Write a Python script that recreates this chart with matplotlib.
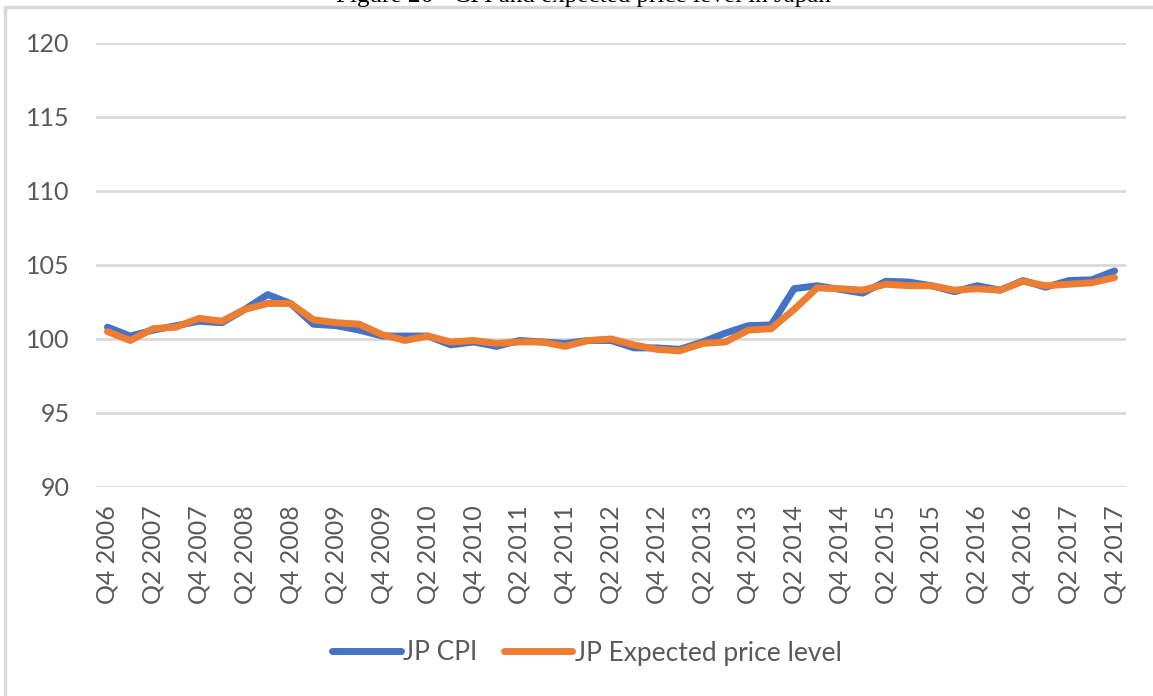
import matplotlib
matplotlib.use("Agg")
import matplotlib.pyplot as plt
from matplotlib.patches import Rectangle

quarters = []
for y in range(2006, 2018):
    for q in range(1, 5):
        if (y == 2006 and q < 4):
            continue
        quarters.append(f"Q{q} {y}")

jp_cpi = [100.8, 100.2, 100.6, 100.9, 101.2, 101.1, 102.0, 103.0, 102.4,
          101.0, 100.9, 100.6, 100.2, 100.2, 100.2, 99.6, 99.8, 99.5,
          99.9, 99.8, 99.7, 99.9, 99.9, 99.4, 99.4, 99.3, 99.8, 100.4,
          100.9, 100.95, 103.4, 103.6, 103.35, 103.1, 103.9, 103.85, 103.6,
          103.2, 103.6, 103.3, 103.95, 103.5, 103.95, 104.0, 104.6]
jp_expected = [100.5, 99.9, 100.7, 100.8, 101.4, 101.2, 102.0, 102.4, 102.4,
               101.3, 101.1, 101.0, 100.3, 99.9, 100.2, 99.8, 99.9, 99.7,
               99.8, 99.8, 99.5, 99.9, 100.0, 99.6, 99.3, 99.2, 99.7, 99.8,
               100.6, 100.7, 102.0, 103.45, 103.4, 103.3, 103.7, 103.6, 103.6,
               103.3, 103.4, 103.3, 103.9, 103.6, 103.7, 103.8, 104.15]
y_ticks = [90, 95, 100, 105, 110, 115, 120]
title = "Figure 26 - CPI and expected price level in Japan"

W, H = 1153, 696
fig = plt.figure(figsize=(W / 100, H / 100), dpi=100)
fig.patch.set_facecolor("white")

# chart frame
fig.patches.append(Rectangle((5 / W, -0.1), 1.2, 1 - 7 / H + 0.1, transform=fig.transFigure,
                             fill=False, edgecolor="#d9d9d9", linewidth=2.5, zorder=0))
fig.text(583 / W, 1 - 2 / H, title, family="Liberation Serif", fontsize=18,
         ha="center", va="baseline", color="black")

ax = fig.add_axes([96 / W, 1 - 487 / H, (1126 - 96) / W, (487 - 43) / H])
x = list(range(len(quarters)))
ax.plot(x, jp_cpi, color="#4472C4", linewidth=5, solid_capstyle="round",
        solid_joinstyle="round", label="JP CPI", zorder=3)
ax.plot(x, jp_expected, color="#ED7D31", linewidth=5, solid_capstyle="round",
        solid_joinstyle="round", label="JP Expected price level", zorder=4)

ax.set_xlim(-0.5, len(quarters) - 0.5)
ax.set_ylim(90, 120)
ax.set_yticks(y_ticks)
ax.set_yticklabels([str(t) for t in y_ticks], family="Lato", fontsize=18, color="#595959")
ax.set_xticks(x[::2])
ax.set_xticklabels(quarters[::2], rotation=90, family="Lato", fontsize=18, color="#595959")
ax.tick_params(axis="both", length=0)
ax.tick_params(axis="y", pad=19)
ax.tick_params(axis="x", pad=13)
ax.grid(axis="y", color="#d9d9d9", linewidth=2)
ax.set_axisbelow(True)
for s in ax.spines.values():
    s.set_visible(False)

leg = fig.legend(loc="center", bbox_to_anchor=(587 / W, 1 - 653 / H), ncol=2, frameon=False,
                 prop={"family": "Lato", "size": 19}, handlelength=2.6, handletextpad=0.1,
                 columnspacing=1.0)
for t in leg.get_texts():
    t.set_color("#595959")

fig.savefig("out.png", dpi=100)
